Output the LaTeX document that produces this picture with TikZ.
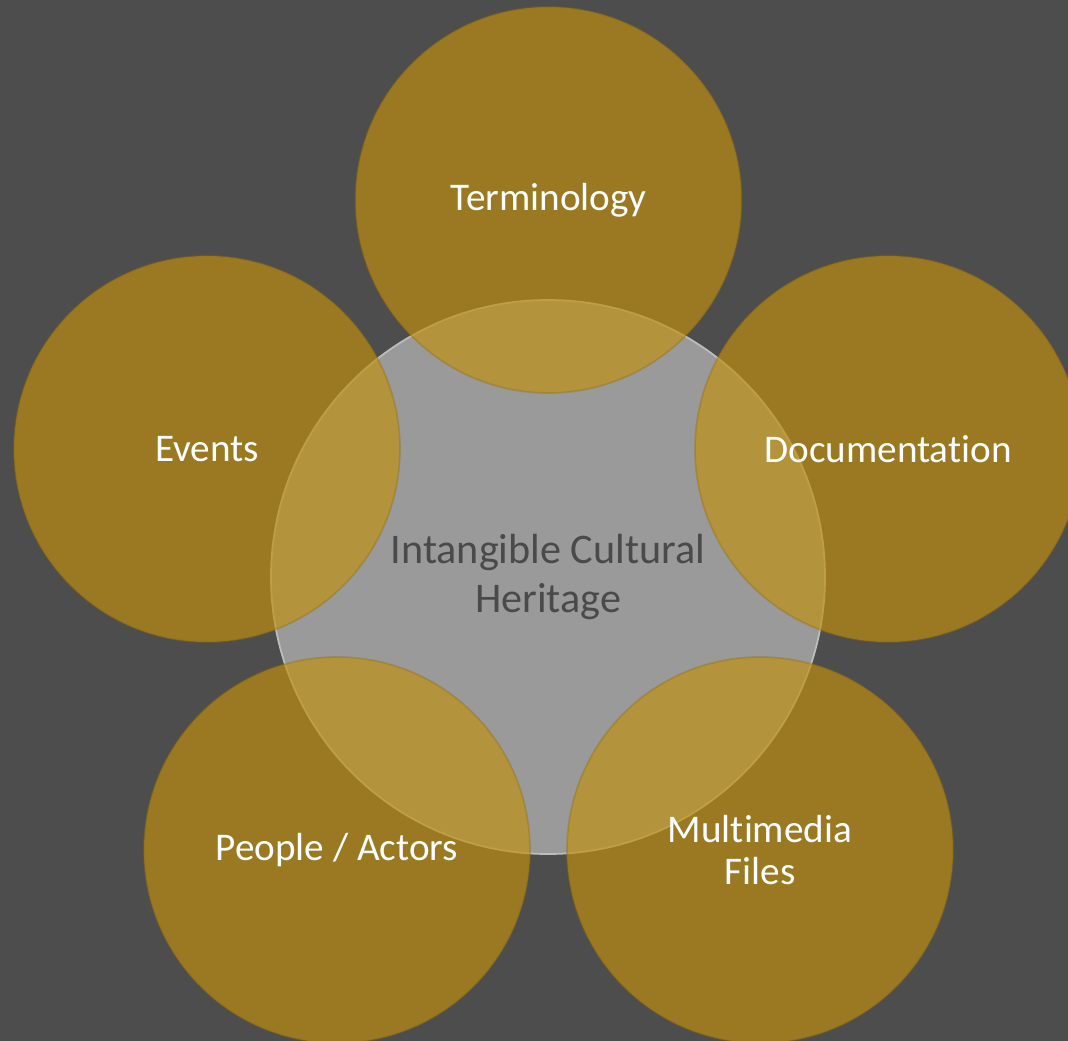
\documentclass[tikz,border=0pt]{standalone}
\usepackage{fontspec}
\setmainfont{Carlito}[Ligatures=NoCommon]
\usepackage{tikz}
\definecolor{bg}{HTML}{4D4D4D}
\definecolor{gold}{RGB}{192,144,14}
\definecolor{core}{HTML}{9A9A9A}
\definecolor{coretext}{HTML}{4A4A4A}
\tikzstyle{topic} = [circle, inner sep=0pt, minimum size=7.72cm, fill=gold, fill opacity=0.67, draw=gold!75!black, draw opacity=0.35, line width=1pt, text=white, text opacity=1, align=center, font=\fontsize{22.3}{24}\selectfont]
\tikzstyle{hub} = [circle, inner sep=0pt, minimum size=11.08cm, fill=core, draw=white!35!core, line width=1pt, text=coretext, align=center, font=\fontsize{24}{28}\selectfont]

\begin{document}
\begin{tikzpicture}
	\fill[bg](0,0) rectangle (21.36,-20.82);
	\useasboundingbox(0,0) rectangle (21.36,-20.82);

	\node[hub](ich) at (10.96,-11.54){Intangible Cultural\\Heritage};

	\node[topic](term) at (10.97,-4.00){Terminology};
	\node[topic](events) at (4.14,-8.98){Events};
	\node[topic](doc) at (17.76,-8.98){Documentation};
	\node[topic](people) at (6.74,-17.00){People / Actors};
	\node[topic](media) at (15.20,-17.00){Multimedia\\Files};
\end{tikzpicture}
\end{document}
